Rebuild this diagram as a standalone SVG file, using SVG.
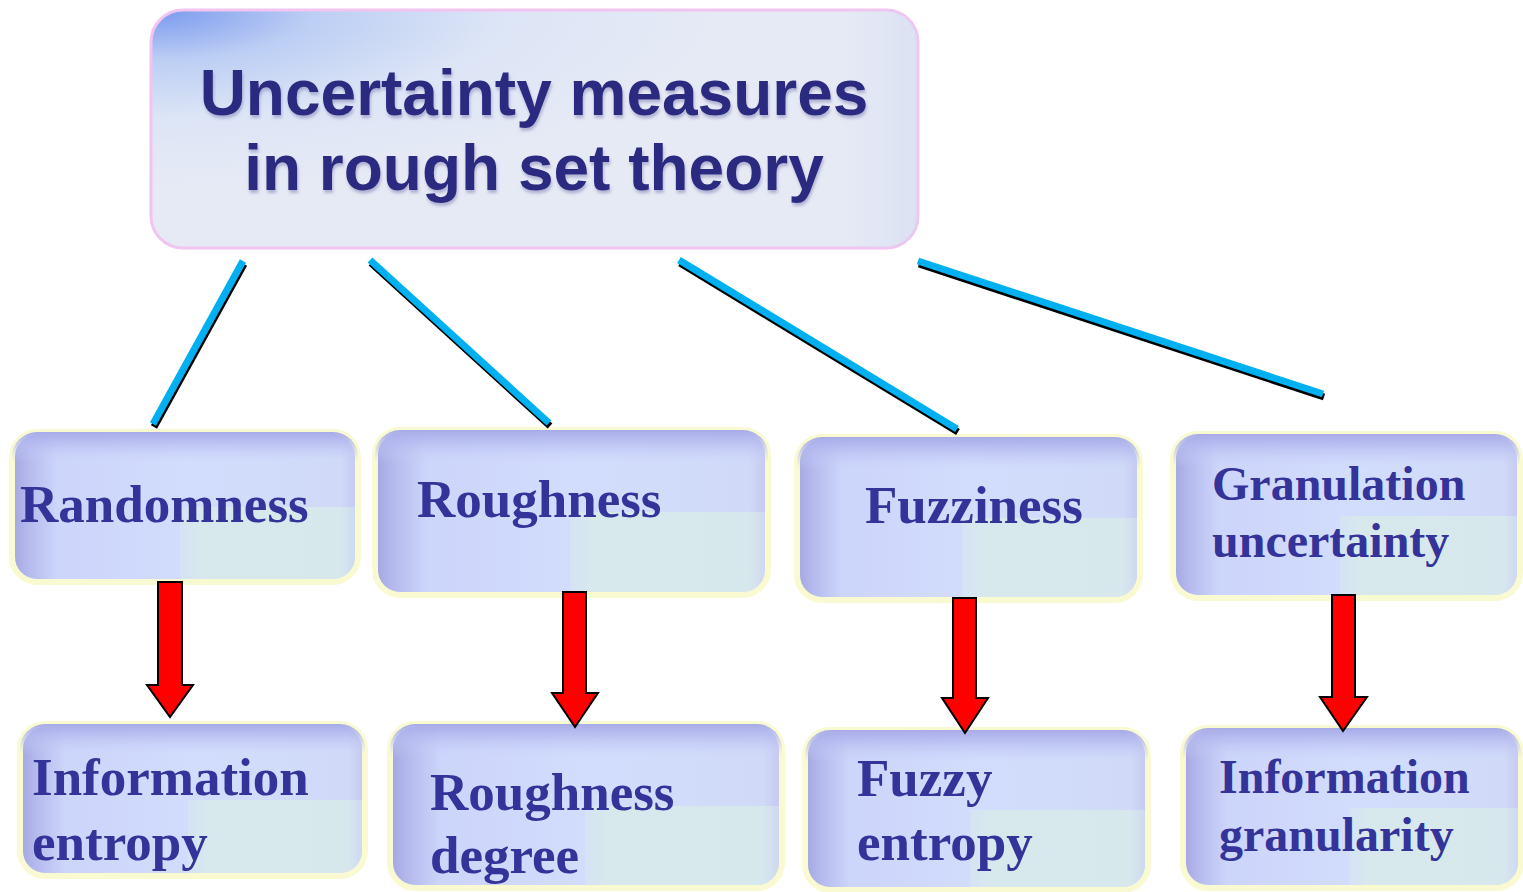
<svg xmlns="http://www.w3.org/2000/svg" width="1523" height="892" viewBox="0 0 1523 892">
<style>
.box{fill:url(#gH);stroke:#fafad2;stroke-width:6}
.top{fill:url(#gV)}
.grn{fill:url(#gG)}
.lbl{font-family:"Liberation Serif","Times New Roman",serif;font-weight:bold;font-size:53px;fill:#333399}
.sm{font-size:48px}
.title{font-family:"Liberation Sans",Arial,sans-serif;font-weight:bold;font-size:64px;fill:#2b2b80;text-anchor:middle}
.sh{stroke:#000;stroke-width:7;fill:none}
.ln{stroke:#00b0f0;stroke-width:7;fill:none}
.arr{fill:#ff0000;stroke:#000;stroke-width:2;stroke-linejoin:miter}
</style>
<defs>
<linearGradient id="gH" x1="0" y1="0" x2="1" y2="0">
<stop offset="0" stop-color="#a4a6e0"/>
<stop offset="0.05" stop-color="#b6bbee"/>
<stop offset="0.13" stop-color="#ccd5fa"/>
<stop offset="0.5" stop-color="#d2dcfc"/>
<stop offset="0.95" stop-color="#d0daf8"/>
<stop offset="1" stop-color="#c4c8f0"/>
</linearGradient>
<linearGradient id="gV" x1="0" y1="0" x2="0" y2="1">
<stop offset="0" stop-color="#a6aae8" stop-opacity="1"/>
<stop offset="0.08" stop-color="#b4baf0" stop-opacity="0.7"/>
<stop offset="0.2" stop-color="#c8d0f8" stop-opacity="0"/>
<stop offset="1" stop-color="#c8d0f8" stop-opacity="0"/>
</linearGradient>
<linearGradient id="gG" x1="0" y1="0" x2="1" y2="0">
<stop offset="0" stop-color="#d8eaec" stop-opacity="0.5"/>
<stop offset="0.12" stop-color="#d9ecea" stop-opacity="0.8"/>
<stop offset="0.9" stop-color="#d9ecea" stop-opacity="0.8"/>
<stop offset="1" stop-color="#d9ecea" stop-opacity="0.4"/>
</linearGradient>
<radialGradient id="gT" cx="0" cy="0" r="0.75">
<stop offset="0" stop-color="#7898ee"/>
<stop offset="0.28" stop-color="#bccef4"/>
<stop offset="0.6" stop-color="#dce5f6"/>
<stop offset="1" stop-color="#e6eaf5"/>
</radialGradient>
<linearGradient id="gT2" x1="0" y1="0" x2="1" y2="0">
<stop offset="0" stop-color="#ffffff" stop-opacity="0"/>
<stop offset="0.9" stop-color="#d8dcf4" stop-opacity="0"/>
<stop offset="1" stop-color="#d0d8f2" stop-opacity="0.5"/>
</linearGradient>
<filter id="ds" x="-5%" y="-20%" width="110%" height="140%">
<feDropShadow dx="1" dy="3" stdDeviation="1.5" flood-color="#7a7ab0" flood-opacity="0.5"/>
</filter>
</defs>
<rect width="1523" height="892" fill="#ffffff"/>

<g id="root">
<rect x="151" y="10" width="767" height="238" rx="32" fill="url(#gT)" stroke="#f2c4f0" stroke-width="3"/>
<rect x="151" y="10" width="767" height="238" rx="32" fill="url(#gT2)"/>
<g filter="url(#ds)">
<text class="title" x="534" y="115">Uncertainty measures</text>
<text class="title" x="534" y="190">in rough set theory</text>
</g>
</g>

<g id="randomness">
<rect class="box" x="12" y="432" width="346" height="150" rx="25"/>
<path class="grn" d="M180 507 H355 V557 A22 22 0 0 1 333 579 H180 Z"/>
<rect class="top" x="12" y="432" width="346" height="150" rx="25"/>
<text class="lbl" x="20" y="522">Randomness</text>
</g>

<g id="roughness">
<rect class="box" x="375" y="430" width="393" height="165" rx="25"/>
<path class="grn" d="M570 512 H765 V570 A22 22 0 0 1 743 592 H570 Z"/>
<rect class="top" x="375" y="430" width="393" height="165" rx="25"/>
<text class="lbl" x="417" y="517">Roughness</text>
</g>

<g id="fuzziness">
<rect class="box" x="797" y="437" width="343" height="163" rx="25"/>
<path class="grn" d="M962 518 H1137 V575 A22 22 0 0 1 1115 597 H962 Z"/>
<rect class="top" x="797" y="437" width="343" height="163" rx="25"/>
<text class="lbl" x="865" y="523">Fuzziness</text>
</g>

<g id="granulation">
<rect class="box" x="1173" y="434" width="347" height="164" rx="25"/>
<path class="grn" d="M1340 516 H1517 V573 A22 22 0 0 1 1495 595 H1340 Z"/>
<rect class="top" x="1173" y="434" width="347" height="164" rx="25"/>
<text class="lbl sm" x="1212" y="500">Granulation</text>
<text class="lbl sm" x="1212" y="557">uncertainty</text>
</g>

<g id="info-entropy">
<rect class="box" x="20" y="724" width="345" height="152" rx="25"/>
<path class="grn" d="M188 800 H362 V851 A22 22 0 0 1 340 873 H188 Z"/>
<rect class="top" x="20" y="724" width="345" height="152" rx="25"/>
<text class="lbl" x="32" y="795">Information</text>
<text class="lbl" x="32" y="860">entropy</text>
</g>

<g id="roughness-degree">
<rect class="box" x="390" y="724" width="392" height="164" rx="25"/>
<path class="grn" d="M585 806 H779 V863 A22 22 0 0 1 757 885 H585 Z"/>
<rect class="top" x="390" y="724" width="392" height="164" rx="25"/>
<text class="lbl" x="430" y="810">Roughness</text>
<text class="lbl" x="430" y="873">degree</text>
</g>

<g id="fuzzy-entropy">
<rect class="box" x="805" y="730" width="343" height="160" rx="25"/>
<path class="grn" d="M970 810 H1145 V865 A22 22 0 0 1 1123 887 H970 Z"/>
<rect class="top" x="805" y="730" width="343" height="160" rx="25"/>
<text class="lbl" x="857" y="796">Fuzzy</text>
<text class="lbl" x="857" y="860">entropy</text>
</g>

<g id="info-granularity">
<rect class="box" x="1183" y="728" width="338" height="160" rx="25"/>
<path class="grn" d="M1350 808 H1518 V863 A22 22 0 0 1 1496 885 H1350 Z"/>
<rect class="top" x="1183" y="728" width="338" height="160" rx="25"/>
<text class="lbl sm" x="1219" y="793">Information</text>
<text class="lbl sm" x="1219" y="851">granularity</text>
</g>

<g id="connectors">
<g transform="translate(1 3)">
<line class="sh" x1="243" y1="261" x2="153" y2="424"/>
<line class="sh" x1="370" y1="260" x2="549" y2="423"/>
<line class="sh" x1="679" y1="260" x2="957" y2="429"/>
<line class="sh" x1="918" y1="261" x2="1323" y2="394"/>
</g>
<line class="ln" x1="243" y1="261" x2="153" y2="424"/>
<line class="ln" x1="370" y1="260" x2="549" y2="423"/>
<line class="ln" x1="679" y1="260" x2="957" y2="429"/>
<line class="ln" x1="918" y1="261" x2="1323" y2="394"/>
<path class="arr" d="M158 582 H182 V685 H193 L170 717 L147 685 H158 Z"/>
<path class="arr" d="M563 592 H586 V693 H598 L575 727 L552 693 H563 Z"/>
<path class="arr" d="M953 598 H976 V698 H988 L965 733 L942 698 H953 Z"/>
<path class="arr" d="M1332 595 H1355 V697 H1367 L1343 731 L1320 697 H1332 Z"/>
</g>
</svg>
